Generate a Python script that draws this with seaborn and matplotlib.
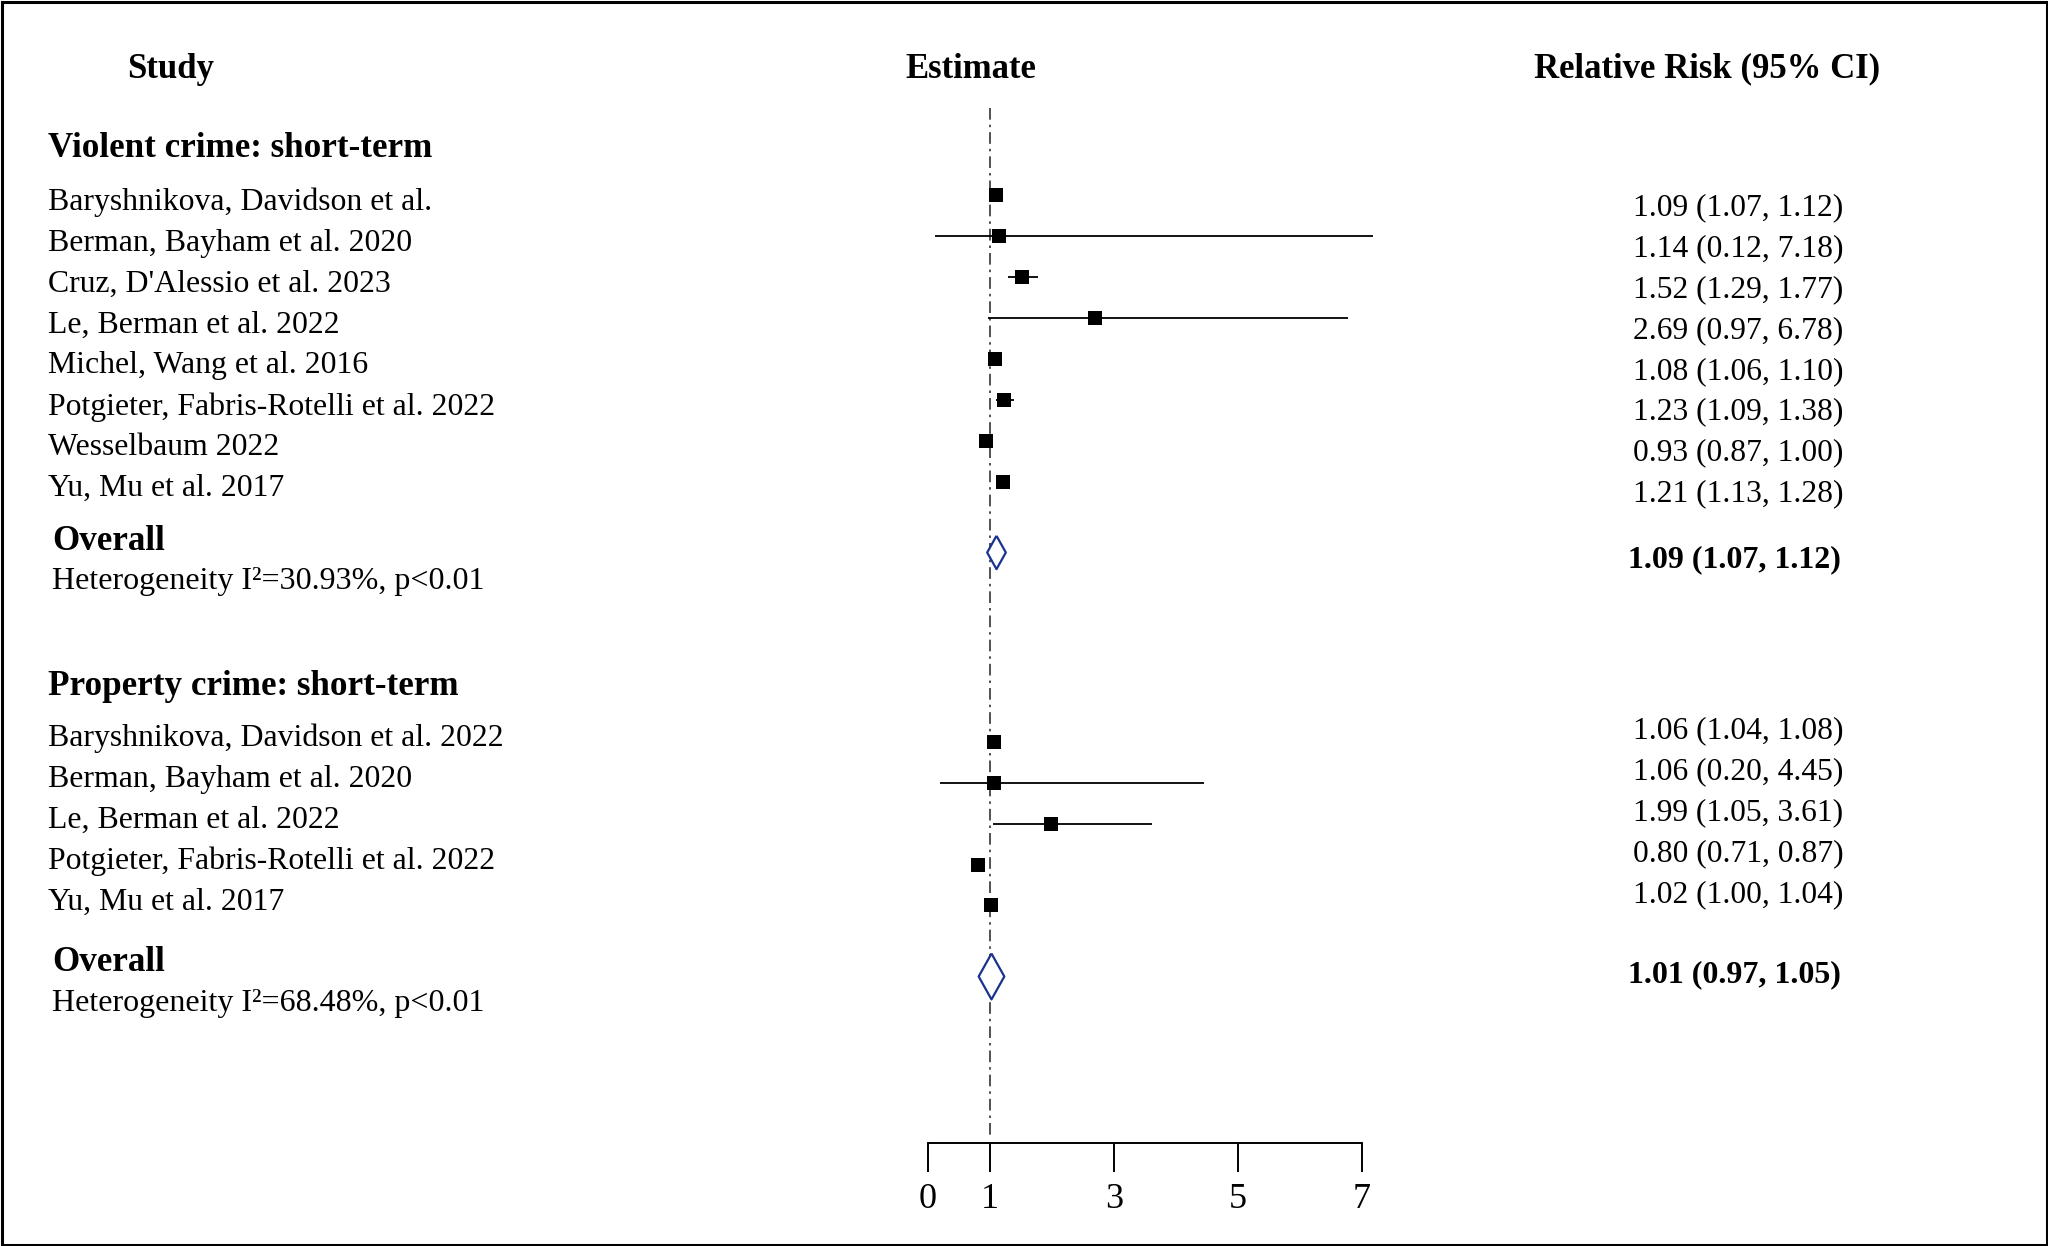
import numpy as np
import pandas as pd
import matplotlib
matplotlib.use("Agg")
import matplotlib.pyplot as plt
import matplotlib.transforms as mtransforms
from matplotlib.patches import Rectangle
import seaborn as sns

# ---------------- data ----------------
violent_studies = ["Baryshnikova, Davidson et al.", "Berman, Bayham et al. 2020",
                   "Cruz, D'Alessio et al. 2023", "Le, Berman et al. 2022",
                   "Michel, Wang et al. 2016", "Potgieter, Fabris-Rotelli et al. 2022",
                   "Wesselbaum 2022", "Yu, Mu et al. 2017"]
violent_rr = [1.09, 1.14, 1.52, 2.69, 1.08, 1.23, 0.93, 1.21]
violent_lo = [1.07, 0.12, 1.29, 0.97, 1.06, 1.09, 0.87, 1.13]
violent_hi = [1.12, 7.18, 1.77, 6.78, 1.10, 1.38, 1.00, 1.28]
violent_overall = [1.09, 1.07, 1.12]
violent_i2 = "30.93%"

property_studies = ["Baryshnikova, Davidson et al. 2022", "Berman, Bayham et al. 2020",
                    "Le, Berman et al. 2022", "Potgieter, Fabris-Rotelli et al. 2022",
                    "Yu, Mu et al. 2017"]
property_rr = [1.06, 1.06, 1.99, 0.80, 1.02]
property_lo = [1.04, 0.20, 1.05, 0.71, 1.00]
property_hi = [1.08, 4.45, 3.61, 0.87, 1.04]
property_overall = [1.01, 0.97, 1.05]
property_i2 = "68.48%"

x_ticks = [0, 1, 3, 5, 7]

# ---------------- style ----------------
sns.set_theme(style="white")
plt.rcParams['font.family'] = ['Liberation Serif', 'DejaVu Serif']

W, H = 2048, 1246
fig = plt.figure(figsize=(W / 100, H / 100), dpi=100)
fig.patch.set_facecolor("white")

# layout (pixels)
X0_PX, X7_PX = 928.0, 1362.0
AXIS_PX = 1142.7
ROW0_PX, ROW_PX = 65.0, 40.94

ax = fig.add_axes([X0_PX / W, 1 - AXIS_PX / H, (X7_PX - X0_PX) / W, AXIS_PX / H])
ax.set_xlim(0, 7)
ax.set_ylim((AXIS_PX - ROW0_PX) / ROW_PX, -ROW0_PX / ROW_PX)
ax.patch.set_visible(False)

tr = mtransforms.blended_transform_factory(fig.transFigure, ax.transData)

def txt(xpx, row, s, size=22.9, weight="normal", ha="left"):
    ax.text(xpx / W, row, s, transform=tr, fontsize=size, fontweight=weight,
            ha=ha, va="center", color="black")

NAVY = "#1B3190"
diamond = [(0, 1), (0.56, 0), (0, -1), (-0.56, 0), (0, 1)]

def fmt(e, l, h):
    return f"{e:.2f} ({l:.2f}, {h:.2f})"

def section(studies, rr, lo, hi, overall, i2, title, title_row, first_row,
            mark_off, val_off, ov_row, dia_off, dia_ms, val_ov_off, het_off):
    rows = first_row + np.arange(len(studies))
    txt(48, title_row, title, size=25.2, weight="bold")
    for r, s in zip(rows, studies):
        txt(48, r, s)
    for r, e, l, h in zip(rows, rr, lo, hi):
        txt(1633, r + val_off, fmt(e, l, h), size=22.7)
    df = pd.DataFrame({"rr": rr, "row": rows + mark_off})
    ax.hlines(df["row"], lo, hi, color="black", lw=1.3, clip_on=False, zorder=2)
    sns.scatterplot(data=df, x="rr", y="row", marker="s", s=110, color="black",
                    linewidth=0, ax=ax, clip_on=False, zorder=3, legend=False)
    txt(52, ov_row, "Overall", size=25.2, weight="bold")
    txt(52, ov_row + het_off, f"Heterogeneity I\u00b2={i2}, p<0.01", size=23)
    txt(1628, ov_row + val_ov_off, fmt(*overall), size=23, weight="bold")
    ax.plot([overall[0]], [ov_row + dia_off], marker=diamond, ms=dia_ms,
            mfc="white", mec=NAVY, mew=1.6, ls="none", clip_on=False, zorder=4)

# headers
txt(171, 0.1, "Study", size=25, weight="bold", ha="center")
txt(971, 0.1, "Estimate", size=25, weight="bold", ha="center")
txt(1707, 0.1, "Relative Risk (95% CI)", size=25, weight="bold", ha="center")

section(violent_studies, violent_rr, violent_lo, violent_hi, violent_overall,
        violent_i2, "Violent crime: short-term", 2.05, 3.35,
        -0.17, 0.13, 11.63, 0.27, 24, 0.45, 0.99)
section(property_studies, property_rr, property_lo, property_hi, property_overall,
        property_i2, "Property crime: short-term", 15.18, 16.45,
        0.08, -0.18, 21.93, 0.33, 33, 0.29, 0.99)

# reference line at 1
ax.vlines(1, (108 - ROW0_PX) / ROW_PX, (1135 - ROW0_PX) / ROW_PX, color="#333333",
          lw=1.2, linestyles=(0, (7, 3, 1.5, 3)), clip_on=False, zorder=1)

# bottom axis
for sp in ["left", "right", "top"]:
    ax.spines[sp].set_visible(False)
ax.spines["bottom"].set_bounds(0, 7)
ax.spines["bottom"].set_color("black")
ax.spines["bottom"].set_linewidth(1.4)
ax.set_xticks(x_ticks)
ax.set_xticklabels([str(t) for t in x_ticks])
ax.set_yticks([])
ax.tick_params(axis="x", direction="out", length=21, width=1.4, colors="black",
               labelsize=26, pad=8, bottom=True)
ax.set_xlabel("")
ax.set_ylabel("")
ax.grid(False)

# outer border
fig.patches.append(Rectangle((1.5 / W, 1.5 / H), 1 - 3 / W, 1 - 3 / H,
                             transform=fig.transFigure, fill=False, lw=2.2,
                             ec="black"))

fig.savefig("out.png", dpi=100, facecolor="white")
